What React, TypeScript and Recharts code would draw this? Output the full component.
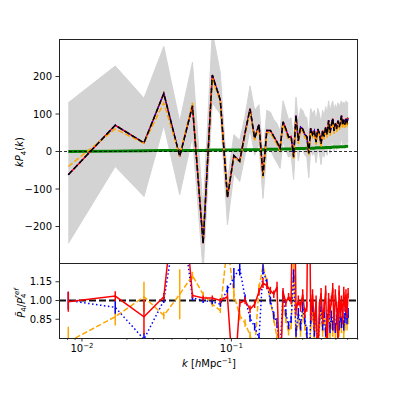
import { ComposedChart, Line, Area, XAxis, YAxis, ReferenceLine, ErrorBar } from 'recharts';

// k bins [h/Mpc]
const kValues = [
  0.0081, 0.0167, 0.026, 0.0353, 0.0451, 0.0549, 0.0647, 0.0745, 0.0843, 0.0941,
  0.1039, 0.1137, 0.1235, 0.1333, 0.1431, 0.153, 0.1628, 0.1726, 0.1824, 0.1922,
  0.202, 0.2118, 0.2216, 0.2315, 0.2413, 0.2511, 0.2609, 0.2707, 0.2805, 0.2903,
  0.3001, 0.3099, 0.3197, 0.3295, 0.3393, 0.3492, 0.359, 0.3688, 0.3786, 0.3884,
  0.3982, 0.408, 0.4178, 0.4276, 0.4374, 0.4473, 0.4571, 0.4669, 0.4767, 0.4865,
  0.4963, 0.5061, 0.5159, 0.5257, 0.5355, 0.5454, 0.5552, 0.565, 0.5748, 0.5846,
  0.5944, 0.6042,
];

// reference kP4 (black dashed / red / blue)
const refP4 = [
  -62, 70, 23, 155, -13, 122, -245, 204, 137, -122,
  -11, -26, 50, 114, 35, 72, -65, 56, 56, 40,
  25, 8, 79, 60, 38, 40, -15, 96, 28, 65,
  60, 45, 40, -5, 62, 45, 55, 25, 60, 48,
  20, 56, 40, 65, 45, 83, 50, 70, 88, 55,
  75, 60, 82, 65, 75, 96, 70, 85, 72, 88,
  78, 90,
];

const orangeP4 = [
  -40, 60, 22, 130, -10, 130, -235, 195, 133, -118,
  -14, -28, 45, 108, 30, 66, -70, 50, 50, 34,
  18, 2, 72, 52, 30, 33, -22, 88, 20, 58,
  52, 38, 32, -10, 54, 38, 47, 18, 52, 40,
  12, 48, 32, 57, 37, 75, 42, 62, 80, 47,
  67, 52, 74, 57, 67, 88, 62, 77, 64, 80,
  70, 82,
];

const greenP4 = [
  0, 1, 2, 3, 3, 3, 3, 4, 4, 4,
  4, 4, 5, 5, 5, 5, 5, 6, 6, 6,
  6, 6, 7, 7, 7, 7, 7, 8, 8, 8,
  8, 8, 9, 9, 9, 9, 9, 10, 10, 10,
  10, 10, 10, 11, 11, 11, 11, 11, 12, 12,
  12, 12, 12, 12, 13, 13, 13, 13, 13, 14,
  14, 14,
];

// envelope of the grey realisations
const grayLow = [
  -245, -40, -120, 70, -115, 40, -320, 130, 100, -195,
  -60, -80, -10, 60, -10, 20, -125, 0, 5, -15,
  -30, -45, 25, 5, -15, -10, -75, 40, -25, 10,
  5, -10, -15, -70, 5, -10, 0, -30, 5, -5,
  -35, 0, -15, 10, -10, 25, -5, 15, 30, 0,
  20, 5, 25, 10, 20, 35, 15, 25, 15, 30,
  20, 30,
];
const grayHigh = [
  130, 228, 142, 280, 80, 238, -155, 320, 210, -80,
  45, 30, 95, 175, 110, 125, -10, 110, 105, 85,
  75, 55, 135, 110, 85, 90, 35, 145, 80, 115,
  110, 95, 90, 40, 115, 100, 110, 80, 115, 100,
  75, 110, 95, 120, 100, 135, 105, 125, 135, 110,
  125, 115, 130, 120, 128, 135, 125, 132, 125, 135,
  128, 132,
];

// ratios to the reference
const redRatio = [
  0.99, 1.035, 0.87, 1.03, 2.2, 1.04, 1.02, 1.02, 1.0, 1.03,
  0.3, 0.98, 1.0, 0.93, 0.97, 1.07, 1.14, 1.12, 1.08, 1.05,
  1.11, 0.3, 1.07, 0.98, 1.03, 1.0, 2.5, 0.92, 1.0, 0.95,
  1.05, 0.9, 0.95, 2.5, 0.88, 1.05, 0.8, 1.0, 0.5, 0.95,
  1.06, 0.85, 0.95, 1.08, 0.6, 1.02, 0.9, 1.0, 1.1, 0.8,
  1.05, 0.95, 0.7, 1.08, 0.9, 1.0, 0.85, 1.07, 0.95, 1.05,
  0.9, 1.06,
];
const redErr = [
  0.08, 0.04, 0.14, 0.03, 0.06, 0.02, 0.02, 0.02, 0.02, 0.03,
  0.1, 0.03, 0.03, 0.03, 0.03, 0.03, 0.04, 0.03, 0.03, 0.03,
  0.04, 0.1, 0.03, 0.03, 0.03, 0.03, 0.1, 0.04, 0.04, 0.04,
  0.04, 0.04, 0.04, 0.1, 0.04, 0.04, 0.04, 0.04, 0.06, 0.04,
  0.04, 0.04, 0.04, 0.04, 0.05, 0.04, 0.04, 0.04, 0.04, 0.04,
  0.04, 0.04, 0.05, 0.04, 0.04, 0.04, 0.04, 0.04, 0.04, 0.04,
  0.04, 0.04,
];

const blueRatio = [
  1.0, 0.945, 0.69, 1.0, 1.8, 1.02, 1.0, 0.99, 0.97, 1.09,
  1.18, 1.26, 1.02, 0.86, 0.79, 0.7, 1.25, 1.14, 1.0, 0.88,
  0.82, 0.6, 1.05, 0.9, 0.8, 0.85, 1.2, 0.75, 0.9, 0.8,
  0.95, 0.85, 0.75, 0.4, 0.85, 0.95, 0.75, 0.9, 0.6, 0.85,
  0.95, 0.8, 0.9, 0.75, 0.85, 0.95, 0.78, 0.88, 0.8, 0.92,
  0.78, 0.85, 0.9, 0.8, 0.88, 0.82, 0.9, 0.8, 0.86, 0.92,
  0.85, 0.9,
];
const blueErr = [
  0.07, 0.05, 0.05, 0.02, 0.1, 0.02, 0.02, 0.02, 0.02, 0.03,
  0.08, 0.06, 0.03, 0.03, 0.03, 0.03, 0.04, 0.03, 0.03, 0.03,
  0.04, 0.05, 0.03, 0.03, 0.03, 0.03, 0.05, 0.04, 0.04, 0.04,
  0.04, 0.04, 0.04, 0.05, 0.04, 0.04, 0.04, 0.04, 0.05, 0.04,
  0.04, 0.04, 0.04, 0.04, 0.04, 0.04, 0.04, 0.04, 0.04, 0.04,
  0.04, 0.04, 0.04, 0.04, 0.04, 0.04, 0.04, 0.04, 0.04, 0.04,
  0.04, 0.04,
];

const orangeRatio = [
  0.67, 0.87, 1.03, 0.88, 1.05, 1.2, 1.05, 0.97, 0.92, 1.45,
  1.05, 0.88, 0.82, 0.72, 0.6, 1.1, 1.28, 1.15, 1.0, 0.85,
  0.7, 0.5, 0.95, 0.85, 0.75, 0.8, 1.3, 0.7, 0.85, 0.75,
  0.9, 0.8, 0.7, 0.3, 0.8, 0.9, 0.7, 0.85, 0.5, 0.8,
  0.9, 0.75, 0.85, 0.7, 0.8, 0.9, 0.72, 0.82, 0.75, 0.88,
  0.74, 0.8, 0.85, 0.75, 0.82, 0.78, 0.85, 0.74, 0.8, 0.88,
  0.8, 0.85,
];
const orangeErr = [
  0.12, 0.07, 0.12, 0.03, 0.2, 0.03, 0.02, 0.02, 0.02, 0.03,
  0.05, 0.04, 0.03, 0.03, 0.03, 0.03, 0.04, 0.03, 0.03, 0.03,
  0.04, 0.05, 0.03, 0.03, 0.03, 0.03, 0.05, 0.04, 0.04, 0.04,
  0.04, 0.04, 0.04, 0.05, 0.04, 0.04, 0.04, 0.04, 0.05, 0.04,
  0.04, 0.04, 0.04, 0.04, 0.04, 0.04, 0.04, 0.04, 0.04, 0.04,
  0.04, 0.04, 0.04, 0.04, 0.04, 0.04, 0.04, 0.04, 0.04, 0.04,
  0.04, 0.04,
];

const kTicks = [0.008, 0.009, 0.01, 0.02, 0.03, 0.04, 0.05, 0.06, 0.07, 0.08, 0.09, 0.1, 0.2, 0.3, 0.4, 0.5, 0.6, 0.7];
const kDomain = [0.00702, 0.7036];
const topTicks = [-200, -100, 0, 100, 200];
const bottomTicks = [0.85, 1.0, 1.15];

const topData = kValues.map((k, i) => ({
  k,
  ref: refP4[i],
  orange: orangeP4[i],
  green: greenP4[i],
  band: [grayLow[i], grayHigh[i]],
}));

const bottomData = kValues.map((k, i) => ({
  k,
  red: redRatio[i],
  redErr: redErr[i],
  blue: blueRatio[i],
  blueErr: blueErr[i],
  orange: orangeRatio[i],
  orangeErr: orangeErr[i],
}));

const FONT = '"DejaVu Sans", sans-serif';
const tickStyle = { fontSize: 10, fill: '#000' };

const LogTick = (props: any) => {
  const { x, y, payload } = props;
  const v = payload.value;
  const major = Math.abs(v - 0.01) < 1e-9 || Math.abs(v - 0.1) < 1e-9;
  if (!major) {
    return <line x1={x} x2={x} y1={y} y2={y + 2} stroke="#000" strokeWidth={0.6} />;
  }
  return (
    <g>
      <line x1={x} x2={x} y1={y} y2={y + 3.5} stroke="#000" strokeWidth={0.8} />
      <text x={x} y={y + 14} textAnchor="middle" fontSize={10} fill="#000">
        10
        <tspan dy={-4.5} fontSize={7}>
          {v < 0.05 ? '−2' : '−1'}
        </tspan>
      </text>
    </g>
  );
};

const minus = (v: number) => String(v).replace('-', '−');

const frame = (top: number, height: number) => ({
  position: 'absolute' as const,
  left: 59,
  top,
  width: 299,
  height,
  border: '1px solid #222',
  boxSizing: 'border-box' as const,
  pointerEvents: 'none' as const,
});

export default function App() {
  return (
    <div style={{ position: 'absolute', left: 0, top: 0, width: 398, height: 398, background: '#fff', fontFamily: FONT }}>
      <div style={{ position: 'absolute', left: 0, top: 0 }}>
        <ComposedChart width={398} height={264} data={topData} margin={{ top: 39, right: 40, bottom: 0, left: 0 }}>
          <XAxis dataKey="k" type="number" scale="log" domain={kDomain} allowDataOverflow hide />
          <YAxis
            type="number"
            domain={[-300, 300]}
            ticks={topTicks}
            allowDataOverflow
            width={59}
            axisLine={false}
            tickSize={3.5}
            tickMargin={3.5}
            tickLine={{ stroke: '#000', strokeWidth: 0.8 }}
            tick={tickStyle}
            tickFormatter={minus}
          />
          <Area dataKey="band" stroke="#d3d3d3" strokeWidth={1} fill="#d3d3d3" fillOpacity={1} isAnimationActive={false} />
          <Line dataKey="green" stroke="green" strokeWidth={3} dot={false} isAnimationActive={false} />
          <Line dataKey="ref" stroke="red" strokeWidth={1.5} dot={false} isAnimationActive={false} />
          <Line dataKey="ref" stroke="blue" strokeWidth={1.5} strokeDasharray="1.5 2.5" dot={false} isAnimationActive={false} />
          <Line dataKey="orange" stroke="orange" strokeWidth={1.5} strokeDasharray="5.5 2.4" dot={false} isAnimationActive={false} />
          <Line dataKey="ref" stroke="#000" strokeWidth={1.5} strokeDasharray="5.5 2.4" dot={false} isAnimationActive={false} />
          <ReferenceLine y={0} stroke="#000" strokeWidth={0.8} strokeDasharray="3 2" />
        </ComposedChart>
      </div>

      {/* ratio panel: plot area only, clipped so error bars stay inside */}
      <div style={{ position: 'absolute', left: 0, top: 263, width: 398, height: 75, overflow: 'hidden' }}>
        <ComposedChart width={398} height={75} data={bottomData} margin={{ top: 0, right: 40, bottom: 0, left: 0 }}>
          <XAxis dataKey="k" type="number" scale="log" domain={kDomain} allowDataOverflow hide />
          <YAxis
            type="number"
            domain={[0.7, 1.3]}
            ticks={bottomTicks}
            allowDataOverflow
            width={59}
            axisLine={false}
            tickSize={3.5}
            tickMargin={3.5}
            tickLine={{ stroke: '#000', strokeWidth: 0.8 }}
            tick={tickStyle}
            tickFormatter={(v: number) => v.toFixed(2)}
          />
          <ReferenceLine y={1} stroke="#111" strokeWidth={2} strokeDasharray="7 3" />
          <Line dataKey="orange" stroke="orange" strokeWidth={1.5} strokeDasharray="5.5 2.4" dot={false} isAnimationActive={false}>
            <ErrorBar dataKey="orangeErr" width={0} stroke="orange" strokeWidth={1.5} direction="y" />
          </Line>
          <Line dataKey="blue" stroke="blue" strokeWidth={1.5} strokeDasharray="1.5 2.5" dot={false} isAnimationActive={false}>
            <ErrorBar dataKey="blueErr" width={0} stroke="blue" strokeWidth={1.5} direction="y" />
          </Line>
          <Line dataKey="red" stroke="red" strokeWidth={1.5} dot={false} isAnimationActive={false}>
            <ErrorBar dataKey="redErr" width={0} stroke="red" strokeWidth={1.5} direction="y" />
          </Line>
        </ComposedChart>
      </div>

      {/* shared k axis under the ratio panel */}
      <div style={{ position: 'absolute', left: 0, top: 263 }}>
        <ComposedChart width={398} height={115} data={bottomData} margin={{ top: 0, right: 40, bottom: 0, left: 59 }}>
          <XAxis
            dataKey="k"
            type="number"
            scale="log"
            domain={kDomain}
            allowDataOverflow
            ticks={kTicks}
            interval={0}
            height={40}
            axisLine={false}
            tickLine={false}
            tickSize={0}
            tickMargin={0}
            tick={<LogTick />}
          />
          <YAxis type="number" domain={[0.7, 1.3]} allowDataOverflow hide />
        </ComposedChart>
      </div>

      <div style={frame(39, 225)} />
      <div style={frame(263, 76)} />

      <div
        style={{
          position: 'absolute',
          left: 21,
          top: 152,
          transform: 'translate(-50%, -50%) rotate(-90deg)',
          fontSize: 10,
          whiteSpace: 'nowrap',
        }}
      >
        <i>k</i>
        <i>P</i>
        <sub style={{ fontSize: 7 }}>4</sub>(<i>k</i>)
      </div>

      <div
        style={{
          position: 'absolute',
          left: 21,
          top: 303,
          transform: 'translate(-50%, -50%) rotate(-90deg)',
          fontSize: 10,
          whiteSpace: 'nowrap',
          display: 'flex',
          alignItems: 'center',
        }}
      >
        <i>P{'\u0303'}</i>
        <span style={{ fontSize: 7, position: 'relative', top: 3 }}>4</span>
        <span>/</span>
        <i>P</i>
        <span style={{ display: 'inline-flex', flexDirection: 'column', fontSize: 7, lineHeight: '7px' }}>
          <i>ref</i>
          <span>4</span>
        </span>
      </div>

      <div style={{ position: 'absolute', left: 209, top: 363, transform: 'translate(-50%, -50%)', fontSize: 10, whiteSpace: 'nowrap' }}>
        <i>k</i> [<i>h</i>Mpc<sup style={{ fontSize: 7 }}>−1</sup>]
      </div>
    </div>
  );
}
